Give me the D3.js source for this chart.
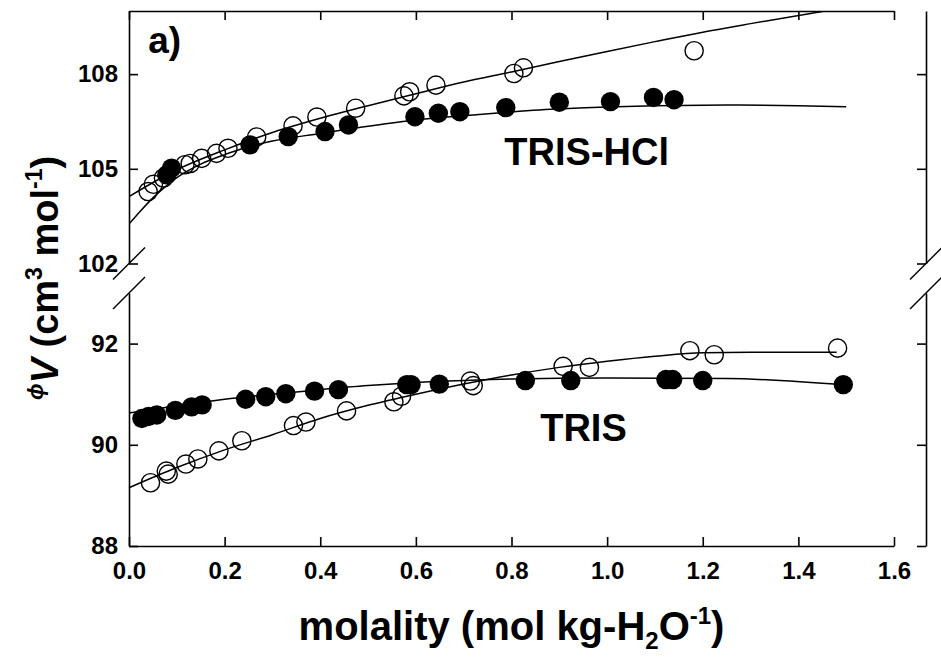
<!DOCTYPE html>
<html>
<head>
<meta charset="utf-8">
<script src="https://cdn.jsdelivr.net/npm/d3@7"></script>
<style>
  html, body { margin: 0; padding: 0; background: #fff; }
  svg text { font-family: "Liberation Sans", Arial, sans-serif; font-weight: bold; fill: #000; }
</style>
</head>
<body>
<svg id="chart"></svg>
<script>
// molality (mol/kg) vs apparent molar volume
var hclOpen = [[0.040, 104.28], [0.051, 104.51], [0.072, 104.71], [0.117, 105.13], [0.128, 105.17],
  [0.152, 105.33], [0.183, 105.49], [0.207, 105.65], [0.267, 106.01], [0.343, 106.36],
  [0.393, 106.64], [0.474, 106.92], [0.575, 107.31], [0.587, 107.44], [0.642, 107.65],
  [0.805, 108.02], [0.825, 108.20], [1.182, 108.74]];
var hclFilled = [[0.079, 104.81], [0.089, 105.02], [0.253, 105.76], [0.333, 106.02], [0.410, 106.18],
  [0.459, 106.39], [0.598, 106.65], [0.647, 106.76], [0.692, 106.81], [0.788, 106.94],
  [0.900, 107.11], [1.007, 107.13], [1.097, 107.26], [1.140, 107.19]];
var hclOpenFit = [[0, 104.12], [0.1, 104.97], [0.2, 105.6], [0.3, 106.15], [0.4, 106.6], [0.5, 107.0],
  [0.6, 107.38], [0.7, 107.75], [0.8, 108.07], [0.9, 108.4], [1.0, 108.72], [1.1, 109.03],
  [1.2, 109.33], [1.3, 109.6], [1.456, 110.0]];
var hclFilledFit = [[0, 103.25], [0.025, 103.68], [0.05, 104.08], [0.075, 104.42], [0.1, 104.72],
  [0.15, 105.15], [0.2, 105.45], [0.25, 105.7], [0.3, 105.88], [0.4, 106.12], [0.5, 106.35],
  [0.6, 106.55], [0.7, 106.68], [0.8, 106.8], [0.9, 106.9], [1.0, 106.96], [1.1, 107.0],
  [1.25, 107.02], [1.4, 107.0], [1.5, 106.97]];

var trisFilled = [[0.027, 90.52], [0.041, 90.56], [0.058, 90.59], [0.097, 90.68], [0.131, 90.75],
  [0.153, 90.79], [0.244, 90.90], [0.286, 90.95], [0.328, 91.01], [0.388, 91.06], [0.438, 91.09],
  [0.581, 91.19], [0.590, 91.19], [0.649, 91.20], [0.829, 91.27], [0.924, 91.27], [1.123, 91.29],
  [1.137, 91.29], [1.200, 91.27], [1.494, 91.19]];
var trisOpen = [[0.045, 89.25], [0.078, 89.48], [0.082, 89.42], [0.119, 89.62], [0.144, 89.72],
  [0.188, 89.88], [0.236, 90.08], [0.344, 90.38], [0.370, 90.45], [0.455, 90.67], [0.554, 90.85],
  [0.570, 90.96], [0.714, 91.26], [0.720, 91.17], [0.908, 91.55], [0.963, 91.53], [1.173, 91.86],
  [1.224, 91.78], [1.482, 91.91]];
var trisFilledFit = [[0, 90.63], [0.1, 90.77], [0.2, 90.9], [0.3, 91.0], [0.4, 91.09], [0.5, 91.17],
  [0.6, 91.23], [0.7, 91.27], [0.8, 91.3], [1.0, 91.32], [1.25, 91.31], [1.5, 91.18]];
var trisOpenFit = [[0, 89.15], [0.1, 89.55], [0.2, 89.9], [0.3, 90.2], [0.4, 90.52], [0.5, 90.78],
  [0.6, 91.0], [0.7, 91.2], [0.8, 91.38], [0.9, 91.53], [1.0, 91.65], [1.1, 91.75], [1.2, 91.82],
  [1.3, 91.83], [1.48, 91.83]];

var xTicks = [0, 0.2, 0.4, 0.6, 0.8, 1.0, 1.2, 1.4, 1.6];
var yTopTicks = [102, 105, 108];
var yBotTicks = [88, 90, 92];

var W = 941, H = 658;
var svg = d3.select("#chart").attr("width", W).attr("height", H);

var x = d3.scaleLinear().domain([0, 1.6]).range([129, 894]);
var yTop = d3.scaleLinear().domain([102, 110]).range([263.5, 11]);
var yBot = d3.scaleLinear().domain([88, 93]).range([546, 293]);
var xRight = 926;

function styleAxis(g) {
  g.selectAll("path, line").attr("stroke", "#000").attr("stroke-width", 1.6);
  g.selectAll("text").attr("font-size", 24).attr("font-family", "Liberation Sans, Arial, sans-serif")
    .attr("font-weight", "bold");
}

// x axes
svg.append("g").attr("transform", "translate(0," + yBot(88) + ")")
  .call(d3.axisBottom(x).tickValues(xTicks).tickFormat(d3.format(".1f"))
    .tickSizeInner(-9).tickSizeOuter(0).tickPadding(16))
  .call(styleAxis);
svg.append("g").attr("transform", "translate(0," + yTop(110) + ")")
  .call(d3.axisTop(x).tickValues(xTicks).tickFormat("").tickSizeInner(-9).tickSizeOuter(0))
  .call(styleAxis);

// y axes, upper and lower panel, left with labels and right without
[[yTop, yTopTicks], [yBot, yBotTicks]].forEach(function (p) {
  svg.append("g").attr("transform", "translate(" + x(0) + ",0)")
    .call(d3.axisLeft(p[0]).tickValues(p[1]).tickFormat(d3.format("d"))
      .tickSizeInner(-9).tickSizeOuter(0).tickPadding(11))
    .call(styleAxis);
  svg.append("g").attr("transform", "translate(" + xRight + ",0)")
    .call(d3.axisRight(p[0]).tickValues(p[1]).tickFormat("").tickSizeInner(-9).tickSizeOuter(0))
    .call(styleAxis);
});

// break marks
[x(0), xRight].forEach(function (cx) {
  [yTop(102), yBot(93)].forEach(function (cy) {
    svg.append("line")
      .attr("x1", cx - 16).attr("y1", cy + 16).attr("x2", cx + 16).attr("y2", cy - 16)
      .attr("stroke", "#000").attr("stroke-width", 1.4);
  });
});

svg.append("clipPath").attr("id", "clipTop").append("rect")
  .attr("x", x(0)).attr("y", yTop(110)).attr("width", x(1.6) - x(0)).attr("height", yTop(102) - yTop(110));

function panel(yScale, fits, filled, open, clip) {
  var g = svg.append("g");
  if (clip) g.attr("clip-path", "url(#" + clip + ")");
  var line = d3.line().x(function (d) { return x(d[0]); }).y(function (d) { return yScale(d[1]); })
    .curve(d3.curveMonotoneX);
  fits.forEach(function (f) {
    g.append("path").datum(f).attr("d", line)
      .attr("fill", "none").attr("stroke", "#000").attr("stroke-width", 1.5);
  });
  g.selectAll(".f").data(filled).enter().append("circle")
    .attr("cx", function (d) { return x(d[0]); }).attr("cy", function (d) { return yScale(d[1]); })
    .attr("r", 9.7).attr("fill", "#000");
  g.selectAll(".o").data(open).enter().append("circle")
    .attr("cx", function (d) { return x(d[0]); }).attr("cy", function (d) { return yScale(d[1]); })
    .attr("r", 9.1).attr("fill", "none").attr("stroke", "#000").attr("stroke-width", 1.4);
}
panel(yTop, [hclOpenFit, hclFilledFit], hclFilled, hclOpen, "clipTop");
panel(yBot, [trisFilledFit, trisOpenFit], trisFilled, trisOpen, null);

// annotations
svg.append("text").attr("x", x(0.04)).attr("y", yTop(108.67)).attr("font-size", 37).text("a)");
svg.append("text").attr("x", x(0.785)).attr("y", yTop(105.12)).attr("font-size", 38).text("TRIS-HCl");
svg.append("text").attr("x", x(0.86)).attr("y", yBot(90.07)).attr("font-size", 38).text("TRIS");

// axis titles
var xt = svg.append("text").attr("x", (x(0) + x(1.6)) / 2).attr("y", 640)
  .attr("text-anchor", "middle").attr("font-size", 40);
xt.append("tspan").text("molality (mol kg-H");
xt.append("tspan").attr("font-size", 24).attr("dy", 9).text("2");
xt.append("tspan").attr("dy", -9).text("O");
xt.append("tspan").attr("font-size", 24).attr("dy", -16).text("-1");
xt.append("tspan").attr("dy", 16).text(")");

var yt = svg.append("text").attr("transform", "translate(58,278) rotate(-90)")
  .attr("text-anchor", "middle").attr("font-size", 38);
yt.append("tspan").attr("font-size", 22).attr("font-style", "italic").attr("dy", -15).text("\u03D5");
yt.append("tspan").attr("font-style", "italic").attr("dy", 15).text("V");
yt.append("tspan").text(" (cm");
yt.append("tspan").attr("font-size", 23).attr("dy", -16).text("3");
yt.append("tspan").attr("dy", 16).text(" mol");
yt.append("tspan").attr("font-size", 23).attr("dy", -16).text("-1");
yt.append("tspan").attr("dy", 16).text(")");
</script>
</body>
</html>
